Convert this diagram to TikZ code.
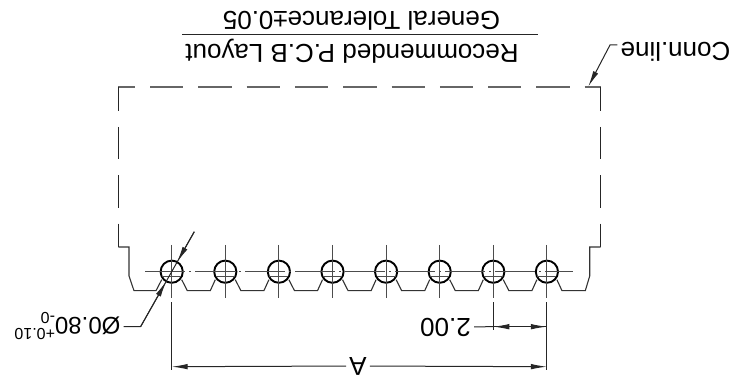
\documentclass[tikz,border=0pt]{standalone}
\usepackage{fontspec}
\setmainfont{Liberation Sans}
\usetikzlibrary{calc,arrows.meta}
\newcommand{\tolstack}[2]{\raisebox{-0.2em}{\fontsize{16}{16.5}\selectfont\shortstack[l]{#1\\[2pt]#2}}}
\tikzset{
  flip/.style={rotate=180,inner sep=3pt,font=\fontsize{26}{30}\selectfont},
  hole/.style={draw=black,line width=1.9pt,circle,minimum size=22.2pt,inner sep=0pt},
  outline/.style={draw=black!80,line width=1.1pt},
  connline/.style={draw=black!85,line width=1.1pt},
  center/.style={draw=black!70,line width=1.1pt},
  dimline/.style={draw=black!85,line width=1pt},
  tip/.style={-{Latex[length=16pt,width=5.5pt]}}
}
\begin{document}
\begin{tikzpicture}[x=1pt,y=-1pt]
  \useasboundingbox (0,0) rectangle (742,382);

  %% Title above the rule
  \node[flip] (TOL) at (361.5,21) {General Tolerance±0.05};
  \node[flip] (PCB) at (352,51) {Recommended P.C.B Layout};
  \coordinate (RL) at (182,35);
  \coordinate (RR) at (538,35);
  \draw[dimline] (RL) -- (RR);

  %% Connector line: top and both sides
  \coordinate (TL) at (118.3,87);
  \coordinate (TR) at (600.7,87);
  \coordinate (BL) at (118.3,247);
  \coordinate (BR) at (600.7,247);
  \draw[connline,line width=1.4pt,draw=black!60,dash pattern=on 33.3pt off 15pt,dash phase=16.6pt] (TL) -- (TR);
  \draw[connline,dash pattern=on 32.3pt off 16pt,dash phase=8.3pt] (TL) -- (BL);
  \draw[connline,dash pattern=on 32.3pt off 16pt,dash phase=8.3pt] (TR) -- (BR);

  %% Holes with their center lines
  \foreach \x in {0,1,...,7}
  {
    \node[hole] (H\x) at ({171.7+53.6*\x},271.7) {};
    \draw[center] ($(H\x)+(0,-26.7)$) -- ($(H\x)+(0,26.3)$);
    \draw[center] ($(H\x)+(-9.5,4.5)$) -- ($(H\x)+(9.5,4.5)$);
  }
  \draw[center,dash pattern=on 40pt off 4pt on 2pt off 4pt] ($(H0)+(-26.7,0)$) -- ($(H7)+(26.3,0)$);

  %% Bottom edge between the holes
  \foreach \x [count=\y from 1] in {0,1,...,6}
  {
    \draw[outline] ($(H\x)+(10,8)$) -- ++(5.6,11) -- ++(23,0) -- ($(H\y)+(-10,8)$);
  }
  \draw[outline] (BL) -- ++(10.7,0) -- ++(0,29) -- ++(5,14.7) -- ++(22,0) -- ($(H0)+(-10,8)$);
  \draw[outline] (BR) -- ++(-11,0) -- ++(0,29) -- ++(-4.4,14.7) -- ++(-23.3,0) -- ($(H7)+(10,8)$);

  %% Extension lines
  \foreach \x/\y in {0/68,6/28,7/68}
  {
    \coordinate (EA\x) at ($(H\x)+(0,30.3)$);
    \coordinate (EB\x) at ($(H\x)+(0,30.3+\y)$);
    \draw[dimline] (EA\x) -- (EB\x);
  }

  %% Dimension A
  \node[flip] (ALBL) at (358,366) {A};
  \coordinate (AL) at ($(H0)+(0,95)$);
  \coordinate (AR) at ($(H7)+(0,95)$);
  \draw[dimline,tip] (ALBL) -- (AL);
  \draw[dimline,tip] (ALBL) -- (AR);

  %% Dimension 2.00
  \node[flip] (PITCH) at (445.5,327) {2.00};
  \coordinate (PL) at ($(H6)+(0,55)$);
  \coordinate (PR) at ($(H7)+(0,55)$);
  \draw[dimline] (PITCH) -- (PL);
  \draw[dimline,tip] (PL) -- (PR);
  \draw[dimline,tip] (PR) -- (PL);

  %% Hole diameter
  \node[flip,font=\fontsize{24}{28}\selectfont] (DIA) at (67.5,326) {\O0.80\tolstack{+0.10}{-0}};
  \coordinate (DE) at (140.7,326.5);
  \coordinate (DT) at (194.3,231.7);
  \coordinate (DA) at ($(H0)!11pt!(DE)$);
  \coordinate (DB) at ($(H0)!11pt!(DT)$);
  \draw[dimline] (DIA.west|-DE) -- (DE) -- (DT);
  \draw[dimline,tip] (DE) -- (DA);
  \draw[dimline,tip] (DT) -- (DB);

  %% Conn.line note
  \node[flip] (CONN) at (675.5,52) {Conn.line};
  \coordinate (CE) at (610,45);
  \coordinate (CT) at (588.3,86.5);
  \draw[dimline,tip] (CONN.east|-CE) -- (CE) -- (CT);
\end{tikzpicture}
\end{document}
